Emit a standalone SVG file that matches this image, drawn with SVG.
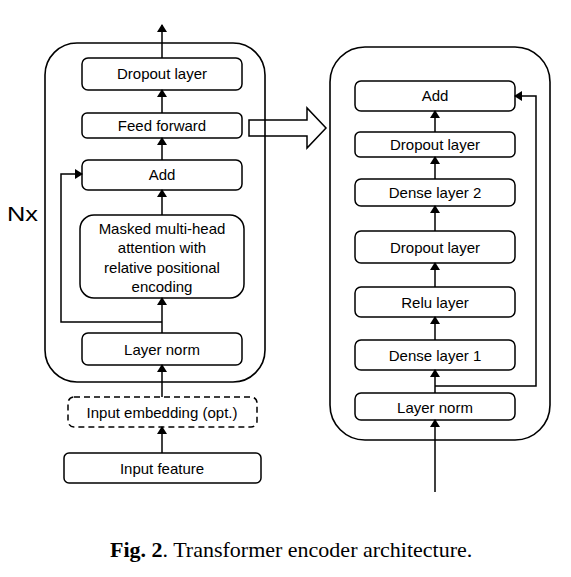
<svg xmlns="http://www.w3.org/2000/svg" width="571" height="577" viewBox="0 0 571 577">
<style>
.box{fill:#fff;stroke:#000;stroke-width:1.5}
.outer{fill:none;stroke:#000;stroke-width:1.6}
.t{font-family:"Liberation Sans",Arial,sans-serif;font-size:15px;text-anchor:middle;fill:#000}
.ln{fill:none;stroke:#000;stroke-width:1.5}
.cap{font-family:"Liberation Serif","Times New Roman",serif;font-size:22px;fill:#000}
</style>
<defs>
<marker id="ah" markerWidth="8" markerHeight="10" refX="7" refY="5" orient="auto" markerUnits="userSpaceOnUse" viewBox="0 0 8 10">
<path d="M0,0 L8,5 L0,10 z" fill="#000"/>
</marker>
</defs>
<rect id="left-frame" class="outer" x="45" y="43" width="220" height="339" rx="32"/>
<rect id="right-frame" class="outer" x="330" y="47" width="220" height="393" rx="35"/>
<text id="nx" x="7" y="221" font-family="Liberation Sans,Arial,sans-serif" font-size="20" fill="#000" textLength="31" lengthAdjust="spacingAndGlyphs">Nx</text>
<g id="l-dropout"><rect class="box" x="82" y="58" width="160" height="32" rx="6"/><text class="t" x="162" y="79">Dropout layer</text></g>
<g id="l-ff"><rect class="box" x="82" y="113" width="160" height="25" rx="5"/><text class="t" x="162" y="131">Feed forward</text></g>
<g id="l-add"><rect class="box" x="82" y="160" width="160" height="30" rx="6"/><text class="t" x="162" y="180">Add</text></g>
<g id="l-mha"><rect class="box" x="80" y="215" width="164" height="83" rx="14"/><text class="t" x="162" y="234">Masked multi-head</text><text class="t" x="162" y="253">attention with</text><text class="t" x="162" y="273">relative positional</text><text class="t" x="162" y="292">encoding</text></g>
<g id="l-norm"><rect class="box" x="82" y="333" width="160" height="32" rx="6"/><text class="t" x="162" y="355">Layer norm</text></g>
<g id="l-embed"><rect class="box" x="68" y="397" width="189" height="30" rx="6" stroke-dasharray="6,4"/><text class="t" x="162" y="418">Input embedding (opt.)</text></g>
<g id="l-input"><rect class="box" x="64" y="453" width="197" height="30" rx="5"/><text class="t" x="162" y="474">Input feature</text></g>
<g id="r-add"><rect class="box" x="355" y="81" width="160" height="30" rx="6"/><text class="t" x="435" y="101">Add</text></g>
<g id="r-drop2"><rect class="box" x="355" y="132" width="160" height="25" rx="5"/><text class="t" x="435" y="150">Dropout layer</text></g>
<g id="r-dense2"><rect class="box" x="355" y="179" width="160" height="27" rx="6"/><text class="t" x="435" y="198">Dense layer 2</text></g>
<g id="r-drop1"><rect class="box" x="355" y="231" width="160" height="32" rx="6"/><text class="t" x="435" y="253">Dropout layer</text></g>
<g id="r-relu"><rect class="box" x="355" y="287" width="160" height="30" rx="6"/><text class="t" x="435" y="308">Relu layer</text></g>
<g id="r-dense1"><rect class="box" x="355" y="340" width="160" height="30" rx="6"/><text class="t" x="435" y="361">Dense layer 1</text></g>
<g id="r-norm"><rect class="box" x="355" y="393" width="160" height="27" rx="6"/><text class="t" x="435" y="413">Layer norm</text></g>
<g id="connectors">
<line class="ln" x1="162" y1="58" x2="162" y2="25" marker-end="url(#ah)"/>
<line class="ln" x1="162" y1="113" x2="162" y2="90" marker-end="url(#ah)"/>
<line class="ln" x1="162" y1="160" x2="162" y2="138" marker-end="url(#ah)"/>
<line class="ln" x1="162" y1="215" x2="162" y2="190" marker-end="url(#ah)"/>
<line class="ln" x1="162" y1="333" x2="162" y2="298" marker-end="url(#ah)"/>
<line class="ln" x1="162" y1="397" x2="162" y2="365" marker-end="url(#ah)"/>
<line class="ln" x1="162" y1="453" x2="162" y2="427" marker-end="url(#ah)"/>
<polyline class="ln" points="162,322 61,322 61,174 82,174" marker-end="url(#ah)"/>
<path class="ln" d="M249,120 L307,120 L307,108 L326,128 L307,148 L307,136 L249,136 Z" fill="#fff"/>
<line class="ln" x1="435" y1="492" x2="435" y2="420" marker-end="url(#ah)"/>
<line class="ln" x1="435" y1="393" x2="435" y2="370" marker-end="url(#ah)"/>
<line class="ln" x1="435" y1="340" x2="435" y2="317" marker-end="url(#ah)"/>
<line class="ln" x1="435" y1="287" x2="435" y2="263" marker-end="url(#ah)"/>
<line class="ln" x1="435" y1="231" x2="435" y2="206" marker-end="url(#ah)"/>
<line class="ln" x1="435" y1="179" x2="435" y2="157" marker-end="url(#ah)"/>
<line class="ln" x1="435" y1="132" x2="435" y2="111" marker-end="url(#ah)"/>
<polyline class="ln" points="435,386 536,386 536,96 515,96" marker-end="url(#ah)"/>
</g>
<text class="cap" x="110" y="557"><tspan font-weight="bold">Fig. 2</tspan>.  Transformer encoder architecture.</text>
</svg>
